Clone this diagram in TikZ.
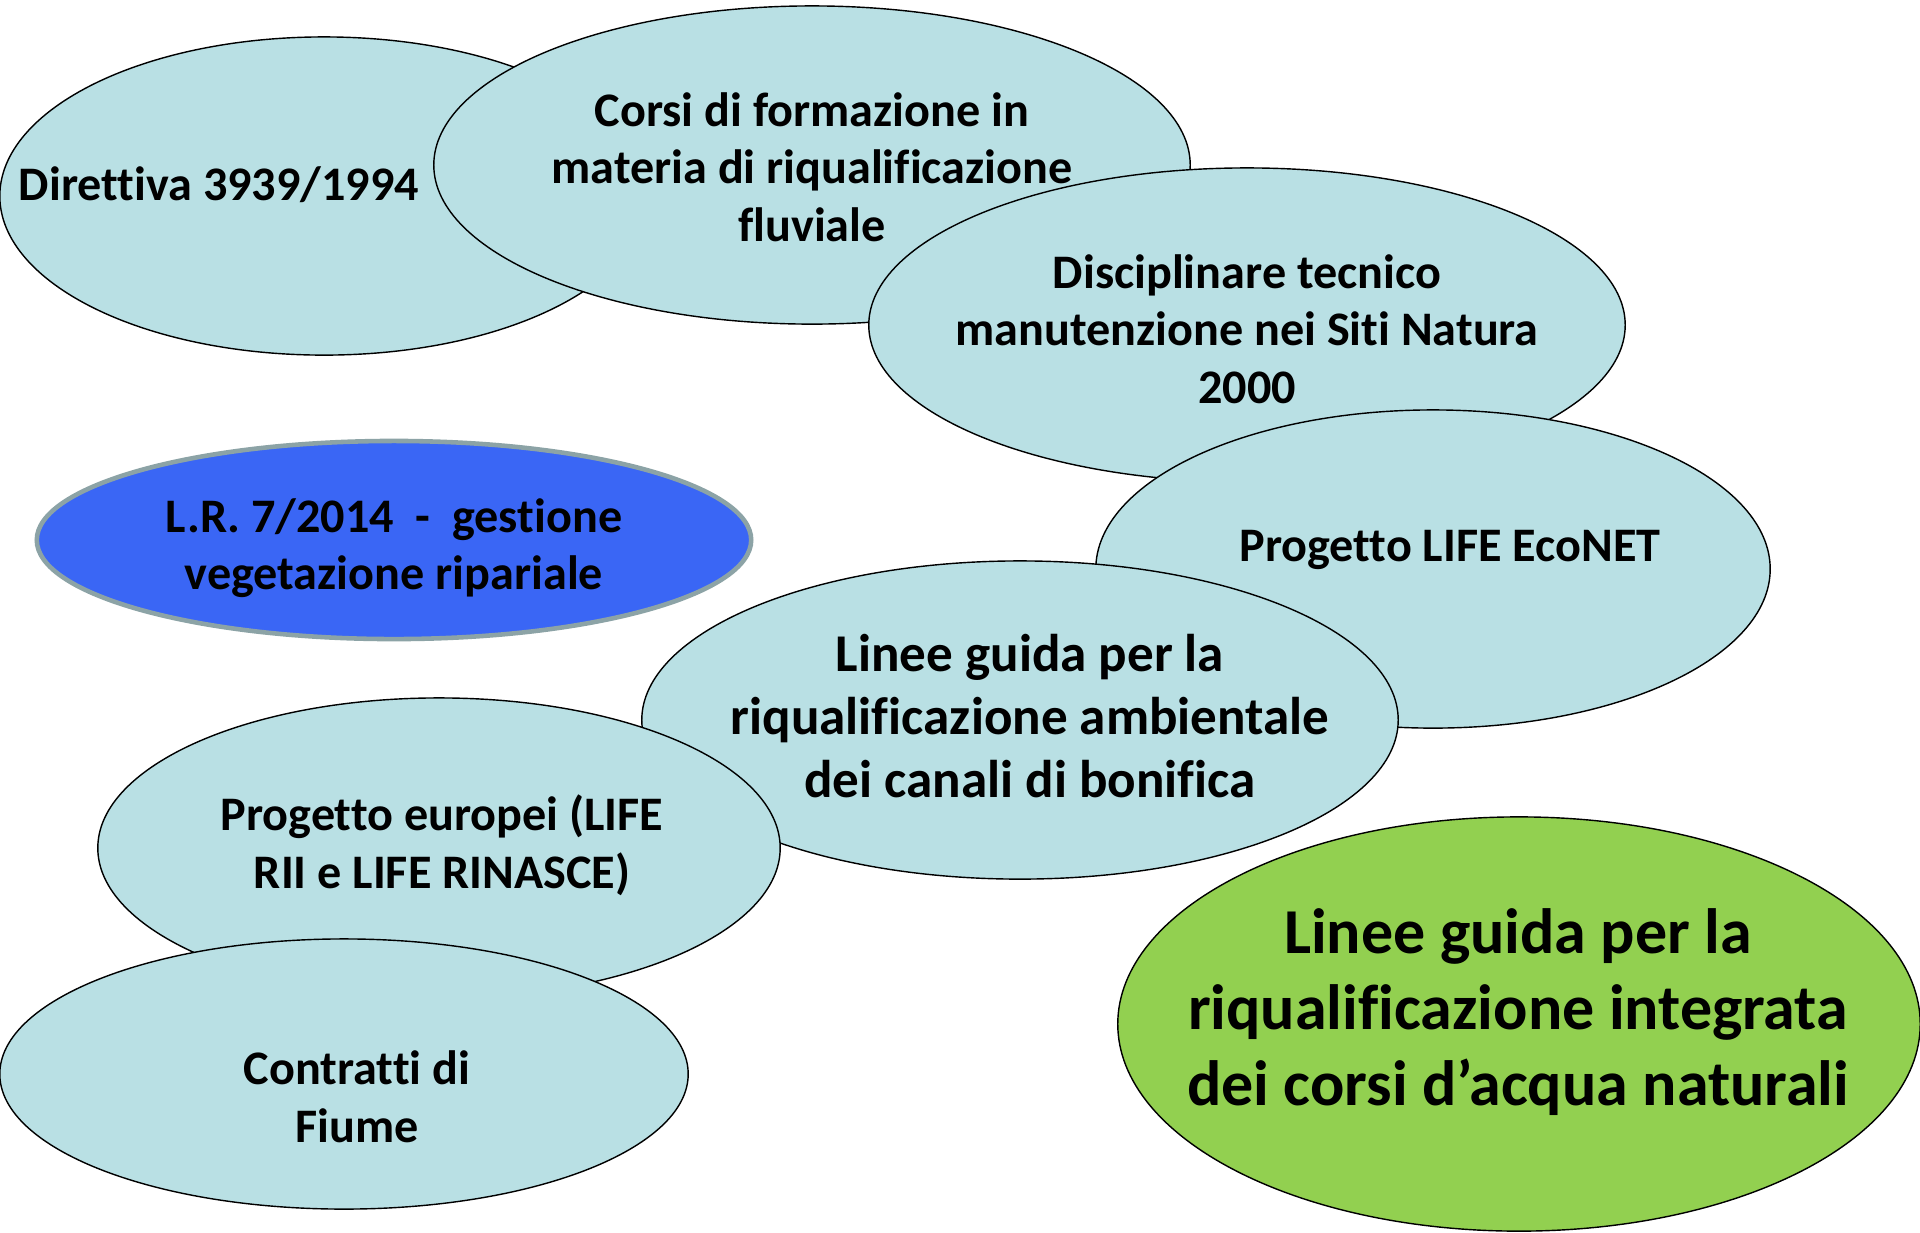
\documentclass[tikz,border=0pt]{standalone}
\usepackage{fontspec}
\setmainfont{Carlito}[Ligatures=NoCommon]
\usetikzlibrary{shapes.geometric}
\definecolor{bubblefill}{RGB}{185,224,228}
\definecolor{lrblue}{RGB}{58,102,245}
\definecolor{lrborder}{RGB}{140,163,166}
\definecolor{leafgreen}{RGB}{146,208,80}
\tikzset{
  bubble/.style={ellipse,draw=black,line width=0.4pt,fill=bubblefill,inner sep=0pt},
  txt/.style={align=center,font=\bfseries\fontsize{13.7}{16.4}\selectfont},
  midtxt/.style={align=center,font=\bfseries\fontsize{15.1}{18}\selectfont},
  bigtxt/.style={align=center,font=\bfseries\fontsize{18.2}{21.6}\selectfont}
}
\begin{document}
\begin{tikzpicture}[x=0.01cm,y=-0.01cm]
    \useasboundingbox (0,0) rectangle (1920,1232);
    \clip (0,0) rectangle (1920,1232);
    \fill[white] (0,0) rectangle (1920,1232);

    % Direttiva
    \node[bubble,minimum width=6.48cm,minimum height=3.18cm] (direttiva) at (324,196) {};
    \node[txt] (direttivatxt) at (219,185) {Direttiva 3939/1994};

    % Corsi di formazione
    \node[bubble,minimum width=7.56cm,minimum height=3.18cm] (corsi) at (812,165) {};
    \node[txt] (corsitxt) at (812,167) {Corsi di formazione in\\materia di riqualificazione\\fluviale};

    % Disciplinare tecnico
    \node[bubble,minimum width=7.56cm,minimum height=3.14cm] (disciplinare) at (1247,325) {};
    \node[txt] (disciplinaretxt) at (1247,329) {Disciplinare tecnico\\manutenzione nei Siti Natura\\2000};

    % LIFE EcoNET
    \node[bubble,minimum width=6.74cm,minimum height=3.18cm] (econet) at (1433,569) {};
    \node[txt] (econettxt) at (1450,550) {Progetto LIFE EcoNET};

    % Canali di bonifica
    \node[bubble,minimum width=7.56cm,minimum height=3.18cm] (canali) at (1020,720) {};
    \node[midtxt] (canalitxt) at (1030,716) {Linee guida per la\\riqualificazione ambientale\\dei canali di bonifica};

    % Progetti europei
    \node[bubble,minimum width=6.82cm,minimum height=3.0cm] (europei) at (439,848) {};
    \node[txt] (europeitxt) at (442,845) {Progetto europei (LIFE\\RII e LIFE RINASCE)};

    % Contratti di fiume
    \node[bubble,minimum width=6.88cm,minimum height=2.7cm] (contratti) at (344,1074) {};
    \node[txt] (contrattitxt) at (357,1097) {Contratti di\\Fiume};

    % L.R. 7/2014
    \node[ellipse,draw=lrborder,line width=1.3pt,fill=lrblue,inner sep=0pt,
          minimum width=7.14cm,minimum height=1.98cm] (lr) at (394,540) {};
    \node[txt] (lrtxt) at (394,548) {L.R. 7/2014 \ - \ gestione\\vegetazione ripariale};

    % Linee guida integrate
    \node[ellipse,draw=black,line width=0.4pt,fill=leafgreen,inner sep=0pt,
          minimum width=8.02cm,minimum height=4.14cm] (integrata) at (1519,1024) {};
    \node[bigtxt] (integratatxt) at (1518,1012) {Linee guida per la\\riqualificazione integrata\\dei corsi d’acqua naturali};
\end{tikzpicture}
\end{document}
